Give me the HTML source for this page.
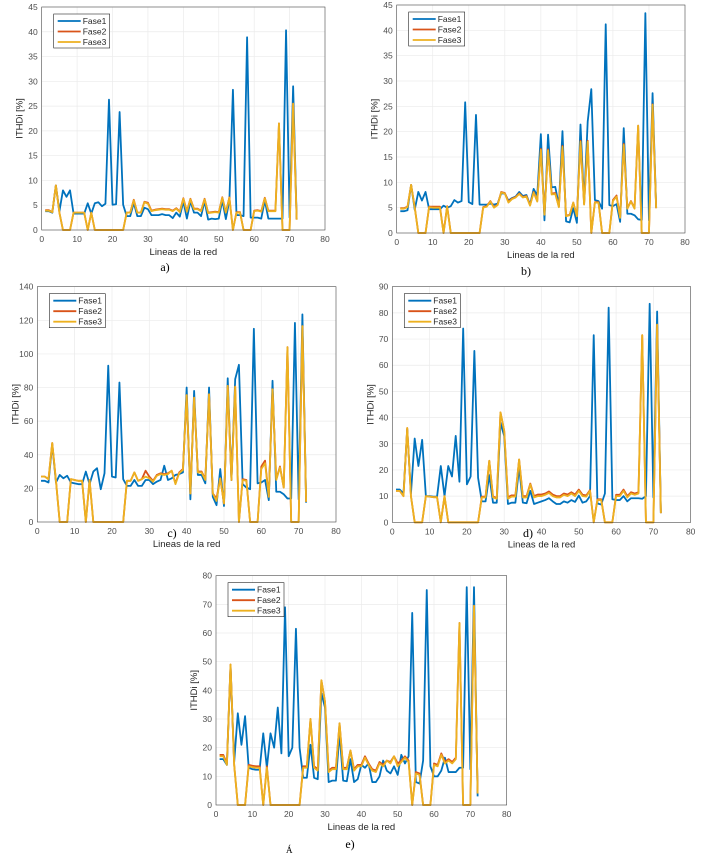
<!DOCTYPE html>
<html><head><meta charset="utf-8"><style>
html,body{margin:0;padding:0;background:#fff;}
svg{display:block;font-family:"Liberation Sans",sans-serif;}
.cap{font-family:"Liberation Serif",serif;font-size:12px;fill:#000;}
</style></head><body>
<svg id="fig" width="703" height="856" viewBox="0 0 703 856" xmlns="http://www.w3.org/2000/svg">
<text x="286" y="853" font-size="9px" fill="#000" font-family="Liberation Serif, serif">Á</text>
</svg>
<script>
const xTicks=[0,10,20,30,40,50,60,70,80];
const yTicksA=[0,5,10,15,20,25,30,35,40,45];
const yTicksC=[0,20,40,60,80,100,120,140];
const yTicksD=[0,10,20,30,40,50,60,70,80,90];
const yTicksE=[0,10,20,30,40,50,60,70,80];
const seriesNames=["Fase1","Fase2","Fase3"];

const a1=[3.8,3.8,3.5,9,3.8,8,6.7,8,3.3,3.3,3.3,3.3,5.4,3.3,5.4,5.6,4.8,5.3,26.3,5.1,5.2,23.8,5.1,2.8,2.8,5.5,2.8,2.8,4.5,4.2,3.0,3.0,3.0,3.2,3.0,3.0,2.4,3.5,2.7,5.8,2.3,5.8,3.5,3.5,2.8,5.8,2.1,2.3,2.2,2.3,6.0,2.2,6.0,28.3,3.0,3.0,2.8,38.9,2.5,2.5,2.5,2.3,6.0,2.3,2.3,2.3,2.3,2.3,40.3,2.5,29.0,2.2];
const a2=[4.0,4.0,3.6,9,3.5,0,0,0,3.5,3.5,3.5,3.5,0,3.5,0,0,0,0,0,0,0,0,0,3.5,3.5,6.1,3.5,3.5,5.7,5.5,3.9,4.1,4.2,4.3,4.2,4.2,3.9,4.4,3.7,6.4,3.8,6.3,4.3,4.3,3.9,6.3,3.5,3.6,3.7,3.6,6.6,3.6,6.6,0,3.6,3.6,0,0,0,3.9,4.0,3.8,6.5,3.9,3.9,3.9,21.5,0,0,0,25.5,2.1];
const a3=[3.9,3.9,3.6,9,3.5,0,0,0,3.5,3.5,3.5,3.5,0,3.5,0,0,0,0,0,0,0,0,0,3.5,3.5,6.0,3.5,3.5,5.6,5.3,3.8,4.0,4.1,4.2,4.1,4.1,3.8,4.3,3.6,6.3,3.7,6.2,4.2,4.2,3.8,6.2,3.4,3.5,3.6,3.5,6.5,3.5,6.5,0,3.5,3.5,0,0,0,3.8,3.9,3.7,6.4,3.8,3.8,3.8,21.5,0,0,0,25.5,2.1];

const b1=[4.3,4.3,4.5,9.5,4.6,8.1,6.4,8.1,4.7,4.7,4.7,4.7,5.4,5.0,5.3,6.5,6.0,6.3,25.8,6.1,5.7,23.3,5.6,5.6,5.6,5.8,5.6,5.8,7.8,7.8,6.4,6.9,7.2,8.1,7.3,7.5,5.6,8.7,7.4,19.5,2.5,19.4,9.0,9.1,5.5,20.1,2.3,2.1,4.9,2.0,21.4,6.0,22.0,28.4,6.5,6.3,4.8,41.2,5.5,5.3,5.7,2.2,20.7,3.8,3.8,3.5,2.7,2.6,43.4,2.5,27.6,5.0];
const b2=[4.9,4.9,5.2,9.5,5.1,0,0,0,5.2,5.2,5.2,5.2,0,5.3,0,0,0,0,0,0,0,0,0,5.1,5.3,6.3,5.1,5.6,8.1,7.9,6.2,6.8,7.1,7.8,7.1,7.3,5.5,8.1,6.3,16.6,3.7,16.5,7.8,7.9,5.2,17.2,3.4,3.6,6.0,3.4,18.2,5.7,18.2,0,6.1,6.1,0,0,0,6.5,7.4,3.1,17.6,4.9,6.3,4.9,21.2,0,0,0,25.4,4.9];
const b3=[4.8,4.8,5.1,9.5,5.0,0,0,0,5.1,5.0,5.0,5.0,0,5.2,0,0,0,0,0,0,0,0,0,5.0,5.2,6.2,5.0,5.5,8.0,7.8,6.0,6.7,7.0,7.7,7.0,7.2,5.4,8.0,6.2,16.4,3.6,16.3,7.6,7.7,5.1,17.0,3.3,3.5,6.0,3.3,18.0,5.6,18.0,0,6.0,6.0,0,0,0,6.3,7.2,3.0,17.4,4.8,6.2,4.8,21.2,0,0,0,25.3,4.9];

const c1=[24.5,24.5,23.5,46,23.5,28,26,27.5,23.5,23,22.5,22.5,30,22.5,30,32,19.5,29,93,27,26.5,83,25.5,21.5,21.5,25,21.5,21.5,25,25,22.5,24,25,33.5,25,26,28,28.5,29.5,80,13.5,78,28,28,23,80,15,10,31.5,9.5,85.5,25,85,93.5,22.5,20.5,19.5,115,23,23.5,25,13,84,18,18,16.5,14,14,118.5,13.5,123.5,11.5];
const c2=[27,27,25.5,47,24.5,0,0,0,25.5,25,24.5,24.5,0,25,0,0,0,0,0,0,0,0,0,24.5,24.5,29.5,24.5,25.5,30.5,27,24.5,28,29,28.5,29,30.5,23,29.5,31.5,75.5,17,74,30,30,25.5,76,17,14,26,11,81,25,80.5,0,25.5,25,0,0,0,33,36.5,15,79,25.5,33,20.5,104,0,0,0,116.5,12];
const c3=[27,27,25.5,47,24.5,0,0,0,25.5,25,24.5,24.5,0,25,0,0,0,0,0,0,0,0,0,24.5,24.5,29.5,24.5,25.5,27,26,24,27.5,28.5,28,28.5,30.5,22.5,29,31,75.5,17,74,29.5,29.5,25,76,17,12.5,26,11,81,25,80.5,0,25,24.5,0,0,0,31.5,35,15,79,25,32.5,20.5,104,0,0,0,116.5,12];

const d1=[12.5,12.5,11,35.5,11,32,21.5,31.5,10,10,9.8,9.8,21.5,10,21.5,17.5,33,15.5,74,14.5,17.5,65.5,17,8,8,18,7.5,7.5,38,33,7,7.5,7.5,21,7.5,7.3,12,7,7.5,8,8.5,9.2,8,7,7,8,7.5,8.5,7.8,10.2,7.5,8,10,71.5,7.2,6.8,11,82,8.8,8.5,8.5,10,8,9.2,9.2,9.2,9,10,83.5,9.5,80.5,3.5];
const d2=[12,12,10,36,10,0,0,0,10,9.8,9.6,9.6,0,10,0,0,0,0,0,0,0,0,0,9.8,9.8,23.5,9.8,9.3,42,35,9.6,10.3,10.3,24,10,10,14.8,10,10.6,10.6,11,11.8,10.6,10,10,11,10.6,11.5,10.6,12.5,10.5,10.3,12.3,0,8.8,8.8,0,0,0,10.5,10.5,12.5,10,11.5,11,11.5,71.5,0,0,0,75.5,3.5];
const d3=[12,12,10,36,10,0,0,0,10,9.8,9.6,9.6,0,10,0,0,0,0,0,0,0,0,0,9.5,9.5,23.5,9.5,9,42,35,9,9.8,9.8,24,9.5,9.5,14.5,9.5,10,10,10.5,11.2,10,9.5,9.5,10.5,10,11,10,12,10,9.8,12,0,8.5,8.5,0,0,0,10,10,12,9.5,11,10.5,11,71.5,0,0,0,75.5,3.5];

const e1=[16,16,14,48.5,15,32,21,31,13,12.5,12.3,12.3,25,13,25,20,34,18,69,17,20,61.5,20,9.5,9.5,21,9.5,9,39,34,8,8.5,8.5,25,8.5,8.3,16,8,9,14,13,14.5,8,8,10,15.5,12,11,13.5,10.5,17.5,14.5,17,67,8,7.5,15.5,75,13.5,10,10,12,16.5,11.5,11.5,11.5,13,13,76,12.5,76,3];
const e2=[17.5,17.5,14.5,49,14,0,0,0,14,13.7,13.5,13.5,0,13.5,0,0,0,0,0,0,0,0,0,13.5,13.5,30,13.5,12.5,43.5,36,12,13,13,28.5,13,13,19,12.5,14,14,17,14.5,12.5,12,15,14,15.5,15,17,14.5,15.5,17,15.5,0,11.5,11,0,0,0,14.5,14,18,15,16,15,16.5,63.5,0,0,0,69.5,4];
const e3=[17,17,14,49,14,0,0,0,13.5,13.2,13,13,0,13,0,0,0,0,0,0,0,0,0,13,13,30,13,12,43.5,36,11.5,12.5,12.5,28.5,12.5,12.5,19,12,13.5,13.5,16.5,14,12,11.5,14.5,13.5,15.5,14.5,17,13.5,15,16.5,15,0,11,10.5,0,0,0,14,13.5,17.5,14.5,15.5,14.5,16,63.5,0,0,0,69.5,4];

const NS="http://www.w3.org/2000/svg";
const svg=document.getElementById('fig');
const colors=["#0072BD","#D95319","#EDB120"];
function mk(tag,attrs,parent){const e=document.createElementNS(NS,tag);for(const k in attrs)e.setAttribute(k,attrs[k]);(parent||svg).appendChild(e);return e;}

const panels=[
 {id:"a",L:41.7,R:325,T:7,B:230,ymax:45,yt:yTicksA,s:[a1,a2,a3],cap:"a)",cx:165,cy:271},
 {id:"b",L:396.7,R:685,T:5,B:233,ymax:45,yt:yTicksA,s:[b1,b2,b3],cap:"b)",cx:526,cy:275},
 {id:"c",L:37.3,R:336,T:286.7,B:522,ymax:140,yt:yTicksC,s:[c1,c2,c3],cap:"c)",cx:172,cy:537},
 {id:"d",L:392.3,R:690.7,T:286.7,B:522.3,ymax:90,yt:yTicksD,s:[d1,d2,d3],cap:"d)",cx:528,cy:537},
 {id:"e",L:216,R:506.7,T:575.7,B:805,ymax:80,yt:yTicksE,s:[e1,e2,e3],cap:"e)",cx:350,cy:848}
];
panels.forEach(p=>{
 const g=mk('g',{});
 
 
 const X=v=>p.L+(v-0)/80*(p.R-p.L);
 const Y=v=>p.B-v/p.ymax*(p.B-p.T);
 xTicks.forEach(t=>{
  const gl=mk('line',{x1:X(t),x2:X(t),y1:p.T,y2:p.B,stroke:"#ebebeb","stroke-width":0.7},g);
  
  
  const tl=mk('text',{x:X(t),y:p.B+12,"text-anchor":"middle","font-size":"8.5px",fill:"#4d4d4d"},g);
  tl.textContent=t;
  
  
 });
 p.yt.forEach(t=>{
  const gl=mk('line',{x1:p.L,x2:p.R,y1:Y(t),y2:Y(t),stroke:"#ebebeb","stroke-width":0.7},g);
  
  
  const tl=mk('text',{x:p.L-4,y:Y(t)+3,"text-anchor":"end","font-size":"8.5px",fill:"#4d4d4d"},g);
  tl.textContent=t;
  
  
 });
 p.s.forEach((arr,si)=>{
  const pts=arr.map((v,i)=>X(i+1).toFixed(2)+","+Y(v).toFixed(2)).join(" ");
  const pl=mk('polyline',{points:pts,fill:"none",stroke:colors[si],"stroke-width":1.8,"stroke-linejoin":"round"},g);
  
  
 });
 const box=mk('rect',{x:p.L,y:p.T,width:p.R-p.L,height:p.B-p.T,fill:"none",stroke:"#262626","stroke-width":0.6,"stroke-opacity":0.8},g);
 
 
 const xl=mk('text',{x:(p.L+p.R)/2,y:p.B+25,"text-anchor":"middle","font-size":"9.5px",fill:"#262626"},g);
 xl.textContent="Lineas de la red";
 
 
 const yl=mk('text',{x:0,y:0,"text-anchor":"middle","font-size":"9.5px",fill:"#262626",transform:`translate(${p.L-19},${(p.T+p.B)/2}) rotate(-90)`},g);
 yl.textContent="ITHDi [%]";
 
 
 const lx=p.L+12,ly=p.T+7;
 const lg=mk('g',{},g);
 
 
 mk('rect',{x:lx,y:ly,width:56,height:34,fill:"#fff",stroke:"#262626","stroke-width":0.6},lg);
 seriesNames.forEach((n,si)=>{
  const yy=ly+7+si*10.5;
  const ll=mk('line',{x1:lx+4,x2:lx+27,y1:yy,y2:yy,stroke:colors[si],"stroke-width":1.8},lg);
  
  
  const lt=mk('text',{x:lx+29,y:yy+3,"font-size":"8.5px",fill:"#262626"},lg);
  lt.textContent=n;
  
  
 });
 const cp=mk('text',{x:p.cx,y:p.cy,"text-anchor":"middle",class:"cap"});
 cp.textContent=p.cap;
 
 
});
</script>
</body></html>
